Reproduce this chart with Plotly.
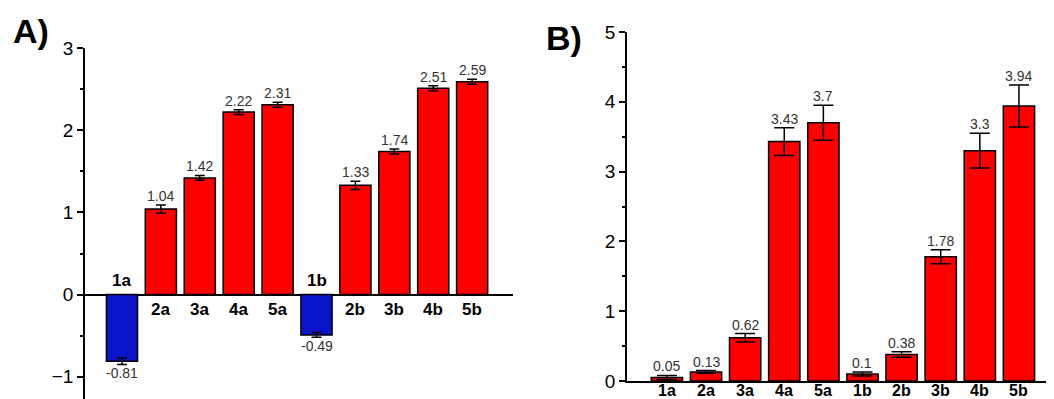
import plotly.graph_objects as go

categories = ["1a", "2a", "3a", "4a", "5a", "1b", "2b", "3b", "4b", "5b"]
values_a = [-0.81, 1.04, 1.42, 2.22, 2.31, -0.49, 1.33, 1.74, 2.51, 2.59]
errors_a = [0.04, 0.05, 0.03, 0.03, 0.03, 0.03, 0.05, 0.03, 0.03, 0.03]
values_b = [0.05, 0.13, 0.62, 3.43, 3.7, 0.1, 0.38, 1.78, 3.3, 3.94]
errors_b = [0.03, 0.02, 0.06, 0.2, 0.25, 0.03, 0.04, 0.1, 0.25, 0.3]
labels_b = ["0.05", "0.13", "0.62", "3.43", "3.7", "0.1", "0.38", "1.78", "3.3", "3.94"]

RED = "#FF0000"
BLUE = "#0A14C8"
FONT = "Liberation Sans"

# page body has an 8px margin; figure is sized / positioned to compensate
W, H, OFF = 1046, 391, 8


def fx(px):
    return (px - OFF) / W


def fy(py):
    return 1 - (py - OFF) / H


xs = list(range(len(categories)))
colors_a = [BLUE if v < 0 else RED for v in values_a]

fig = go.Figure()
fig.add_trace(go.Bar(
    x=xs, y=values_a, width=0.8, xaxis="x", yaxis="y",
    marker=dict(color=colors_a, line=dict(color="black", width=1.5)),
    error_y=dict(type="data", array=errors_a, color="black", thickness=1.5, width=5),
    showlegend=False, hoverinfo="skip",
))
fig.add_trace(go.Bar(
    x=xs, y=values_b, width=0.8, xaxis="x2", yaxis="y2",
    marker=dict(color=RED, line=dict(color="black", width=1.5)),
    error_y=dict(type="data", array=errors_b, color="black", thickness=1.5, width=10),
    showlegend=False, hoverinfo="skip",
))

ann = []
# Panel A labels
for i, (c, v, e) in enumerate(zip(categories, values_a, errors_a)):
    if v >= 0:
        ann.append(dict(x=i, y=v + e, xref="x", yref="y", text=f"{v:g}",
                        showarrow=False, yanchor="bottom", yshift=-1,
                        font=dict(family=FONT, size=14, color="#333333")))
        ann.append(dict(x=i, y=0, xref="x", yref="y", text=f"<b>{c}</b>", showarrow=False,
                        yanchor="top", yshift=-3, font=dict(family=FONT, size=17, color="black")))
    else:
        ann.append(dict(x=i, y=v - e, xref="x", yref="y", text=f"{v:g}",
                        showarrow=False, yanchor="top", yshift=1,
                        font=dict(family=FONT, size=14, color="#333333")))
        ann.append(dict(x=i, y=0, xref="x", yref="y", text=f"<b>{c}</b>", showarrow=False,
                        yanchor="bottom", yshift=3, font=dict(family=FONT, size=17, color="black")))
# Panel B labels
for i, (c, v, e, t) in enumerate(zip(categories, values_b, errors_b, labels_b)):
    ann.append(dict(x=i, y=v + e, xref="x2", yref="y2", text=t, showarrow=False,
                    yanchor="bottom", yshift=-1, font=dict(family=FONT, size=14, color="#333333")))
    ann.append(dict(x=i, y=0, xref="x2", yref="paper", text=f"<b>{c}</b>", showarrow=False,
                    yanchor="bottom", yshift=-2, font=dict(family=FONT, size=16, color="black")))

ann.append(dict(x=fx(11), y=fy(31), xref="paper", yref="paper", text="<b>A)</b>", showarrow=False,
                xanchor="left", yanchor="middle", font=dict(family=FONT, size=34, color="black")))
ann.append(dict(x=fx(544), y=fy(38), xref="paper", yref="paper", text="<b>B)</b>", showarrow=False,
                xanchor="left", yanchor="middle", font=dict(family=FONT, size=34, color="black")))

fig.update_layout(
    width=W, height=H,
    margin=dict(l=0, r=0, t=0, b=0, autoexpand=False),
    paper_bgcolor="white", plot_bgcolor="white",
    bargap=0.2,
    xaxis=dict(domain=[fx(85), fx(513)], range=[-0.95, 10.05], showticklabels=False,
               showgrid=False, zeroline=False, showline=False, ticks="", automargin=False),
    yaxis=dict(domain=[0, fy(48)], range=[-1.27, 3], tickvals=[-1, 0, 1, 2, 3],
               automargin=False,
               showgrid=False, zeroline=True, zerolinecolor="black", zerolinewidth=1.5,
               showline=True, linecolor="black", linewidth=1.5,
               ticks="outside", ticklen=6, tickwidth=1.5, tickcolor="black",
               minor=dict(ticks="outside", ticklen=3, tickwidth=1.5, tickcolor="black", dtick=0.5),
               tickfont=dict(family=FONT, size=19, color="black")),
    xaxis2=dict(domain=[fx(627), min(1.0, fx(1053))], range=[-1.02, 9.87], showticklabels=False,
                showgrid=False, zeroline=False, showline=True, linecolor="black", linewidth=1.5,
                ticks="", anchor="y2", automargin=False),
    yaxis2=dict(domain=[fy(381), fy(32)], range=[0, 5], tickvals=[0, 1, 2, 3, 4, 5],
                anchor="x2", showgrid=False, zeroline=False, automargin=False,
                showline=True, linecolor="black", linewidth=1.5,
                ticks="outside", ticklen=6, tickwidth=1.5, tickcolor="black",
                minor=dict(ticks="outside", ticklen=3, tickwidth=1.5, tickcolor="black", dtick=0.5),
                tickfont=dict(family=FONT, size=19, color="black")),
    annotations=ann,
)

fig.write_html("out.html")
